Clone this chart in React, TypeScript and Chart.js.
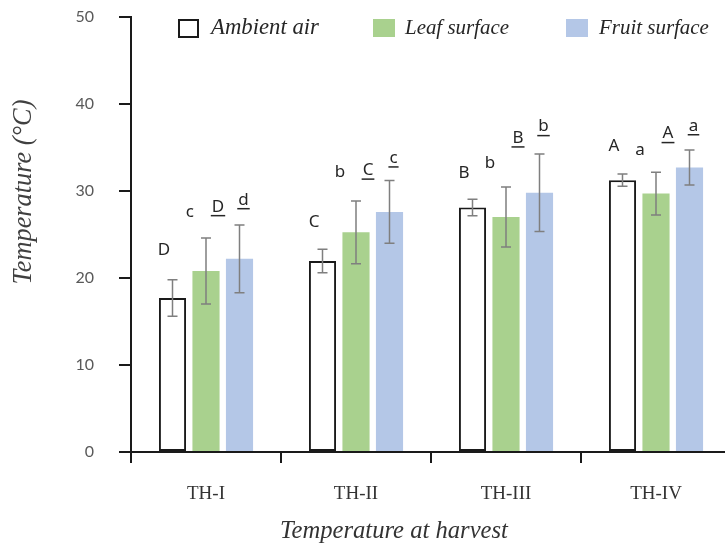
import React, { useEffect, useRef } from "react";
import { Chart, registerables } from "chart.js";

Chart.register(...registerables);

// ---------- data ----------
const categories = ["TH-I", "TH-II", "TH-III", "TH-IV"];
const seriesLabels = ["Ambient air", "Leaf surface", "Fruit surface"];
const ambientAir = [17.7, 21.95, 28.1, 31.25];
const leafSurface = [20.8, 25.25, 27.0, 29.7];
const fruitSurface = [22.2, 27.6, 29.8, 32.7];
const ambientAirErr = [2.1, 1.35, 0.95, 0.7];
const leafSurfaceErr = [3.8, 3.6, 3.45, 2.45];
const fruitSurfaceErr = [3.9, 3.6, 4.45, 2.0];
const yTickValues = [0, 10, 20, 30, 40, 50];
const xTitle = "Temperature at harvest";
const yTitle = "Temperature (°C)";

// significance letters (text) and their heights (in °C units)
const lettersAmbient = ["D", "C", "B", "A"];
const lettersLeaf = ["c", "b", "b", "a"];
const lettersLeafUnderlined = ["D", "C", "B", "A"];
const lettersFruitUnderlined = ["d", "c", "b", "a"];
const letterYAmbient = [23.2, 26.4, 32.0, 35.2];
const letterYLeaf = [27.6, 32.2, 33.2, 34.7];
const letterYLeafUnderlined = [28.2, 32.4, 36.1, 36.6];
const letterYFruitUnderlined = [29.0, 33.8, 37.4, 37.5];

const colors = ["#ffffff", "#a9d18e", "#b4c7e7"];
const INK = "#1a1a1a";

function fitFont(ctx: CanvasRenderingContext2D, text: string, style: string, family: string, target: number) {
  ctx.font = `${style} 20px ${family}`;
  const w = ctx.measureText(text).width;
  const size = (20 * target) / w;
  ctx.font = `${style} ${size}px ${family}`;
}

const annotate = {
  id: "annotate",
  afterDatasetsDraw(chart: any) {
    const ctx: CanvasRenderingContext2D = chart.ctx;
    const ys = chart.scales.y;
    const xs = chart.scales.x;
    const vals = [ambientAir, leafSurface, fruitSurface];
    const errs = [ambientAirErr, leafSurfaceErr, fruitSurfaceErr];
    ctx.save();
    // error bars
    ctx.strokeStyle = "#7f7f7f";
    ctx.lineWidth = 1.5;
    errs.forEach((err, di) => {
      const meta = chart.getDatasetMeta(di);
      meta.data.forEach((bar: any, i: number) => {
        const cx = bar.x;
        const top = ys.getPixelForValue(vals[di][i] + err[i]);
        const bot = ys.getPixelForValue(vals[di][i] - err[i]);
        ctx.beginPath();
        ctx.moveTo(cx, top);
        ctx.lineTo(cx, bot);
        ctx.moveTo(cx - 5, top);
        ctx.lineTo(cx + 5, top);
        ctx.moveTo(cx - 5, bot);
        ctx.lineTo(cx + 5, bot);
        ctx.stroke();
      });
    });

    // significance letters
    const groups = [
      { t: lettersAmbient, y: letterYAmbient, dx: -0.28, u: false },
      { t: lettersLeaf, y: letterYLeaf, dx: -0.107, u: false },
      { t: lettersLeafUnderlined, y: letterYLeafUnderlined, dx: 0.08, u: true },
      { t: lettersFruitUnderlined, y: letterYFruitUnderlined, dx: 0.25, u: true },
    ];
    const catW = xs.getPixelForValue(1) - xs.getPixelForValue(0);
    ctx.fillStyle = "#262626";
    ctx.strokeStyle = "#262626";
    ctx.font = "17px 'Noto Sans'";
    ctx.textAlign = "center";
    ctx.textBaseline = "middle";
    groups.forEach((g) => {
      g.t.forEach((letter, i) => {
        const cx = xs.getPixelForValue(i) + g.dx * catW;
        const cy = ys.getPixelForValue(g.y[i]);
        ctx.fillText(letter, cx, cy);
        if (g.u) {
          const w = ctx.measureText(letter).width;
          ctx.lineWidth = 1.5;
          ctx.beginPath();
          ctx.moveTo(cx - w / 2 - 1, cy + 9);
          ctx.lineTo(cx + w / 2 + 1, cy + 9);
          ctx.stroke();
        }
      });
    });
    ctx.restore();
  },
  afterDraw(chart: any) {
    const ctx: CanvasRenderingContext2D = chart.ctx;
    const xs = chart.scales.x;
    const area = chart.chartArea;
    ctx.save();
    // y axis extension below zero & x group separator ticks
    ctx.strokeStyle = INK;
    ctx.lineWidth = 2;
    ctx.beginPath();
    ctx.moveTo(area.left, area.bottom);
    ctx.lineTo(area.left, area.bottom + 11);
    for (let i = 0; i < categories.length - 1; i++) {
      const bx = (xs.getPixelForValue(i) + xs.getPixelForValue(i + 1)) / 2;
      ctx.moveTo(bx, area.bottom);
      ctx.lineTo(bx, area.bottom + 11);
    }
    ctx.stroke();

    // axis titles
    ctx.fillStyle = "#333333";
    ctx.textAlign = "center";
    ctx.textBaseline = "middle";
    fitFont(ctx, xTitle, "italic", "'Liberation Serif'", 228);
    ctx.fillText(xTitle, 394, 532);
    ctx.save();
    ctx.translate(24, 192);
    ctx.rotate(-Math.PI / 2);
    ctx.fillStyle = "#404040";
    fitFont(ctx, yTitle, "italic", "'Liberation Serif'", 185);
    ctx.fillText(yTitle, 0, 0);
    ctx.restore();

    // legend
    const legend = [
      { box: 179, text: 211, w: 108 },
      { box: 373, text: 405, w: 104 },
      { box: 566, text: 599, w: 110 },
    ];
    legend.forEach((l, i) => {
      if (i === 0) {
        ctx.fillStyle = "#ffffff";
        ctx.fillRect(l.box, 20, 19, 17);
        ctx.strokeStyle = INK;
        ctx.lineWidth = 2;
        ctx.strokeRect(l.box, 20, 19, 17);
      } else {
        ctx.fillStyle = colors[i];
        ctx.fillRect(l.box, 19, 22, 18);
      }
      ctx.fillStyle = "#262626";
      ctx.textAlign = "left";
      ctx.textBaseline = "middle";
      fitFont(ctx, seriesLabels[i], "italic", "'Liberation Serif'", l.w);
      ctx.fillText(seriesLabels[i], l.text, 28);
    });
    ctx.restore();
  },
};

export default function App() {
  const ref = useRef<HTMLCanvasElement>(null);
  useEffect(() => {
    const chart = new Chart(ref.current as HTMLCanvasElement, {
      type: "bar",
      data: {
        labels: categories,
        datasets: [
          {
            label: seriesLabels[0],
            data: ambientAir,
            backgroundColor: colors[0],
            borderColor: INK,
            borderWidth: 2,
            borderSkipped: false,
            categoryPercentage: 0.67,
            barPercentage: 0.81,
          },
          {
            label: seriesLabels[1],
            data: leafSurface,
            backgroundColor: colors[1],
            borderWidth: 0,
            categoryPercentage: 0.67,
            barPercentage: 0.81,
          },
          {
            label: seriesLabels[2],
            data: fruitSurface,
            backgroundColor: colors[2],
            borderWidth: 0,
            categoryPercentage: 0.67,
            barPercentage: 0.81,
          },
        ],
      },
      options: {
        responsive: false,
        animation: false,
        devicePixelRatio: 1,
        layout: { autoPadding: false, padding: { top: 17, right: 9, left: 0, bottom: 0 } },
        plugins: {
          legend: { display: false },
          tooltip: { enabled: false },
          title: { display: false },
        },
        scales: {
          x: {
            type: "category",
            offset: true,
            grid: { display: false },
            border: { display: true, color: INK, width: 2 },
            ticks: {
              color: "#333333",
              font: { family: "'Liberation Serif'", size: 19 },
              padding: 23,
              maxRotation: 0,
              autoSkip: false,
            },
            afterFit: (s: any) => {
              s.height = 96;
              s.paddingLeft = 0;
              s.paddingRight = 0;
            },
          },
          y: {
            min: 0,
            max: 50,
            afterBuildTicks: (s: any) => {
              s.ticks = yTickValues.map((v) => ({ value: v }));
            },
            grid: {
              display: true,
              drawOnChartArea: false,
              drawTicks: true,
              tickLength: 12,
              color: INK,
              lineWidth: 2,
            },
            border: { display: true, color: INK, width: 2 },
            ticks: {
              color: "#595959",
              font: { family: "Lato", size: 16 },
              padding: 25,
            },
            afterFit: (s: any) => {
              s.width = 131;
              s.paddingTop = 0;
              s.paddingBottom = 0;
            },
          },
        },
      } as any,
      plugins: [annotate],
    });
    return () => chart.destroy();
  }, []);
  return (
    <div
      style={{
        position: "fixed",
        left: 0,
        top: 0,
        width: 725,
        height: 548,
        overflow: "hidden",
        background: "#ffffff",
      }}
    >
      <canvas ref={ref} width={740} height={548} style={{ display: "block", width: 740, height: 548 }} />
    </div>
  );
}
